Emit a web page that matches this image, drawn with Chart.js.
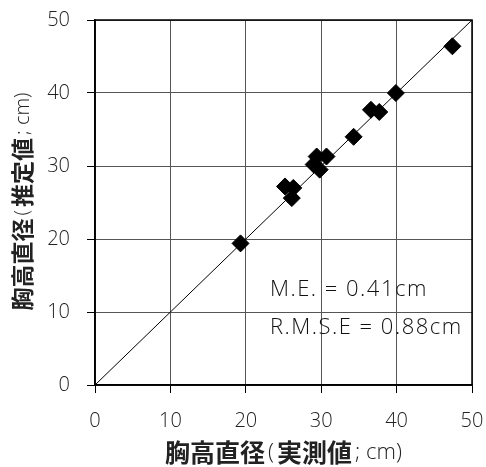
<!DOCTYPE html>
<html>
<head>
<meta charset="utf-8">
<script src="https://cdn.jsdelivr.net/npm/chart.js@4/dist/chart.umd.min.js"></script>
<style>
  html, body { margin: 0; padding: 0; background: #fff; }
  #wrap { width: 486px; height: 467px; }
</style>
</head>
<body>
<div id="wrap"><canvas id="c" width="486" height="467"></canvas></div>
<script>
// 実測値 vs 推定値 (cm)
const measured  = [19.3, 25.2, 26.3, 26.1, 29.4, 30.7, 29.0, 29.8, 34.3, 36.6, 37.7, 39.9, 47.4];
const estimated = [19.4, 27.2, 27.0, 25.6, 31.3, 31.3, 30.2, 29.5, 34.0, 37.7, 37.4, 40.0, 46.4];
const lineX = [0, 50];
const lineY = [0, 50];
const tickValues = [0, 10, 20, 30, 40, 50];
const notes = ['M.E. = 0.41cm', 'R.M.S.E = 0.88cm'];
// axis titles: [text, bold?]
const xTitle = [['胸高直径', true], ['(', false], ['実測値', true], ['; cm)', false]];
const yTitle = [['胸高直径', true], ['(', false], ['推定値', true], ['; cm)', false]];

const tickFont = { family: '"Open Sans", sans-serif', size: 20, weight: '300' };

function drawTitle(ctx, segs, cx, cy, cjkSize, latSize, rotate) {
    const gap = 3;
    const fontOf = b => b ? `bold ${cjkSize}px "Noto Sans CJK JP", sans-serif`
                          : `300 ${latSize}px "Open Sans", "Noto Sans CJK JP", sans-serif`;
    let total = gap * (segs.length - 1);
    const widths = segs.map(([t, b]) => { ctx.font = fontOf(b); const w = ctx.measureText(t).width; total += w; return w; });
    ctx.save();
    ctx.translate(cx, cy);
    if (rotate) ctx.rotate(-Math.PI / 2);
    ctx.fillStyle = '#222';
    ctx.textBaseline = 'middle';
    ctx.textAlign = 'left';
    let x = -total / 2;
    segs.forEach(([t, b], i) => {
        ctx.font = fontOf(b);
        ctx.fillText(t, x, b ? 0 : 1);
        x += widths[i] + gap;
    });
    ctx.restore();
}

// frame around plot, text notes, axis titles
const extras = {
    id: 'extras',
    afterDatasetsDraw(chart) {
        const { ctx, chartArea: a, scales } = chart;
        ctx.save();
        ctx.strokeStyle = '#000';
        ctx.lineWidth = 1.5;
        ctx.strokeRect(a.left, a.top, a.right - a.left, a.bottom - a.top);
        ctx.fillStyle = '#111';
        ctx.font = '300 22px "Open Sans", sans-serif';
        ctx.letterSpacing = '1.5px';
        ctx.textBaseline = 'middle';
        ctx.textAlign = 'left';
        const x = scales.x.getPixelForValue(23.2);
        ctx.fillText(notes[0], x, scales.y.getPixelForValue(13.0));
        ctx.fillText(notes[1], x, scales.y.getPixelForValue(7.8));
        ctx.restore();
        drawTitle(ctx, xTitle, (a.left + a.right) / 2, 452, 25, 22, false);
        drawTitle(ctx, yTitle, 22, (a.top + a.bottom) / 2 - 1, 23, 20, true);
    }
};

function axis(extra) {
    return Object.assign({
        type: 'linear',
        min: 0,
        max: 50,
        afterBuildTicks: s => { s.ticks = tickValues.map(v => ({ value: v })); },
        ticks: { color: '#222', font: tickFont },
        grid: { color: '#555', lineWidth: 1, tickLength: 8, tickColor: '#000' },
        border: { color: '#000', width: 1.5 },
        title: { display: false }
    }, extra);
}

const xAxis = axis({
    afterFit: s => { s.height = 82; s.paddingLeft = 0; s.paddingRight = 0; }
});
xAxis.ticks.padding = 16;
const yAxis = axis({
    afterFit: s => { s.width = 95; s.paddingTop = 0; s.paddingBottom = 0; }
});
yAxis.ticks.padding = 17;

new Chart(document.getElementById('c'), {
    type: 'scatter',
    data: {
        datasets: [{
            label: '推定値',
            data: measured.map((v, i) => ({ x: v, y: estimated[i] })),
            pointStyle: 'rectRot',
            pointRadius: 8.5,
            pointBackgroundColor: '#000',
            pointBorderColor: '#000',
            order: 0
        }, {
            label: '1:1',
            data: lineX.map((v, i) => ({ x: v, y: lineY[i] })),
            showLine: true,
            borderColor: '#000',
            borderWidth: 1,
            pointRadius: 0,
            order: 1
        }]
    },
    options: {
        responsive: false,
        animation: false,
        layout: { padding: { top: 20, right: 14, left: 0, bottom: 0 } },
        plugins: {
            legend: { display: false },
            tooltip: { enabled: false }
        },
        scales: { x: xAxis, y: yAxis }
    },
    plugins: [extras]
});
</script>
</body>
</html>
